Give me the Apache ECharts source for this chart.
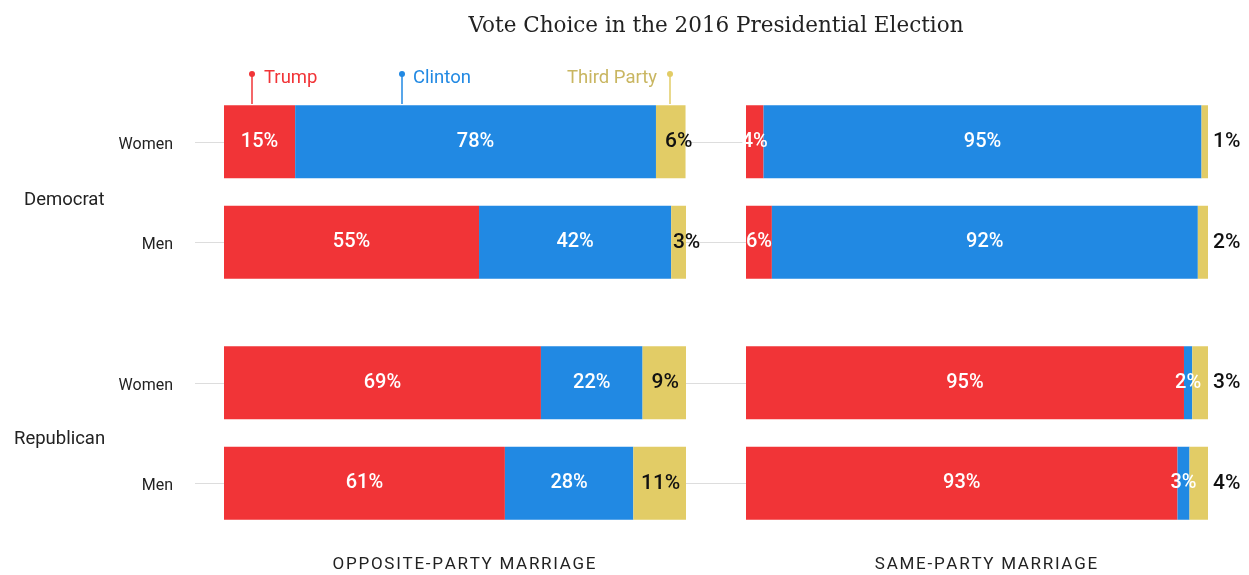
<!DOCTYPE html>
<html><head><meta charset="utf-8">
<script src="https://cdn.jsdelivr.net/npm/echarts@6/dist/echarts.min.js"></script>
<style>html,body{margin:0;padding:0;background:#fff}#c{width:1249px;height:575px}</style>
</head><body><div id="c"></div>
<script>
// Row order: Democrat Women, Democrat Men, Republican Women, Republican Men
var rowLabels = ['Women', 'Men'];
var partyLabels = ['Democrat', 'Republican'];
var panelNames = ['OPPOSITE-PARTY MARRIAGE', 'SAME-PARTY MARRIAGE'];
var seriesNames = ['Trump', 'Clinton', 'Third Party'];

var oppTrump   = [15.4, 55.2, 68.6, 60.8];
var oppClinton = [78.1, 41.6, 22.0, 27.8];
var oppThird   = [6.4, 3.2, 9.4, 11.4];

var sameTrump   = [3.8, 5.6, 94.8, 93.4];
var sameClinton = [94.8, 92.2, 1.8, 2.6];
var sameThird   = [1.4, 2.2, 3.4, 4.0];

var colors = ['#F13437', '#2189E3', '#E2CC66'];
var FONT = 'Roboto, sans-serif';

function spaced(t) { return t.split('').join('\u200A'); }

var panels = [[oppTrump, oppClinton, oppThird], [sameTrump, sameClinton, sameThird]];
var grids = [], xAxes = [], yAxes = [], series = [];
var gridLeft = [224, 746];
var gridTop = [91.5, 332.5];

for (var p = 0; p < 2; p++) {
  for (var g = 0; g < 2; g++) {
    var gi = grids.length;
    grids.push({left: gridLeft[p], width: 462, top: gridTop[g], height: 201, containLabel: false});
    xAxes.push({
      type: 'value', gridIndex: gi, min: 0, max: 100, show: g === 1,
      axisLine: {show: false}, axisTick: {show: false}, axisLabel: {show: false}, splitLine: {show: false},
      name: g === 1 ? spaced(panelNames[p]) : '', nameLocation: 'middle', nameGap: 23,
      nameTextStyle: {fontFamily: FONT, fontSize: 17, color: '#222', verticalAlign: 'top', padding: [0, 0, 0, 18]}
    });
    yAxes.push({
      type: 'category', gridIndex: gi, inverse: true, data: rowLabels,
      axisLine: {show: false},
      axisTick: {show: true, alignWithLabel: true, length: p === 0 ? 29 : 60, lineStyle: {color: '#dddddd', width: 1}},
      axisLabel: {show: p === 0, margin: 51, fontFamily: FONT, fontSize: 16, color: '#222',
        formatter: function (v) { return '{a|' + v + '}'; },
        rich: {a: {fontFamily: FONT, fontSize: 16, color: '#222', padding: [6, 0, 0, 0]}}},
      splitLine: {show: false}
    });
    for (var s = 0; s < 3; s++) {
      var vals = panels[p][s].slice(g * 2, g * 2 + 2);
      var data = vals.map(function (v) {
        var item = {value: v};
        if (s === 2) {
          if (p === 0) {
            item.label = {position: 'inside', offset: [v < 8 ? 8 : 1, 0]};
          } else {
            item.label = {position: 'right', distance: 5};
          }
        }
        return item;
      });
      series.push({
        type: 'bar', name: seriesNames[s], stack: 'st' + gi, xAxisIndex: gi, yAxisIndex: gi,
        barWidth: 73, data: data, itemStyle: {color: colors[s]},
        label: {
          show: true, position: 'inside',
          formatter: function (prm) { return Math.round(prm.value) + '%'; },
          fontFamily: FONT, fontSize: s === 2 ? 21 : 20, fontWeight: 500,
          color: s === 2 ? '#111' : '#fff'
        },
        silent: true, animation: false
      });
    }
  }
}

var graphics = [
  {type: 'text', left: 24, top: 191, style: {text: partyLabels[0], font: '18.5px ' + FONT, fill: '#222'}},
  {type: 'text', left: 14, top: 430, style: {text: partyLabels[1], font: '18.5px ' + FONT, fill: '#222'}},
  // legend pins
  {type: 'line', shape: {x1: 252, y1: 74, x2: 252, y2: 104}, style: {stroke: colors[0], lineWidth: 1.5}},
  {type: 'circle', shape: {cx: 252, cy: 74, r: 3}, style: {fill: colors[0]}},
  {type: 'text', x: 264, y: 78, style: {text: seriesNames[0], font: '18.5px ' + FONT, fill: colors[0], verticalAlign: 'middle'}},
  {type: 'line', shape: {x1: 402, y1: 74, x2: 402, y2: 104}, style: {stroke: colors[1], lineWidth: 1.5}},
  {type: 'circle', shape: {cx: 402, cy: 74, r: 3}, style: {fill: colors[1]}},
  {type: 'text', x: 413, y: 78, style: {text: seriesNames[1], font: '18.5px ' + FONT, fill: colors[1], verticalAlign: 'middle'}},
  {type: 'line', shape: {x1: 670, y1: 74, x2: 670, y2: 104}, style: {stroke: colors[2], lineWidth: 1.5}},
  {type: 'circle', shape: {cx: 670, cy: 74, r: 3}, style: {fill: colors[2]}},
  {type: 'text', x: 657, y: 78, style: {text: seriesNames[2], font: '18.5px ' + FONT, fill: '#C9B661', align: 'right', verticalAlign: 'middle'}}
];

var chart = echarts.init(document.getElementById('c'), null, {renderer: 'canvas'});
chart.setOption({
  animation: false,
  title: {
    text: 'Vote Choice in the 2016 Presidential Election', left: 711, top: 10, textAlign: 'center',
    textStyle: {fontFamily: '"DejaVu Serif", serif', fontSize: 21.5, fontWeight: 'normal', color: '#222'}
  },
  grid: grids, xAxis: xAxes, yAxis: yAxes, series: series, graphic: graphics
});
</script></body></html>
